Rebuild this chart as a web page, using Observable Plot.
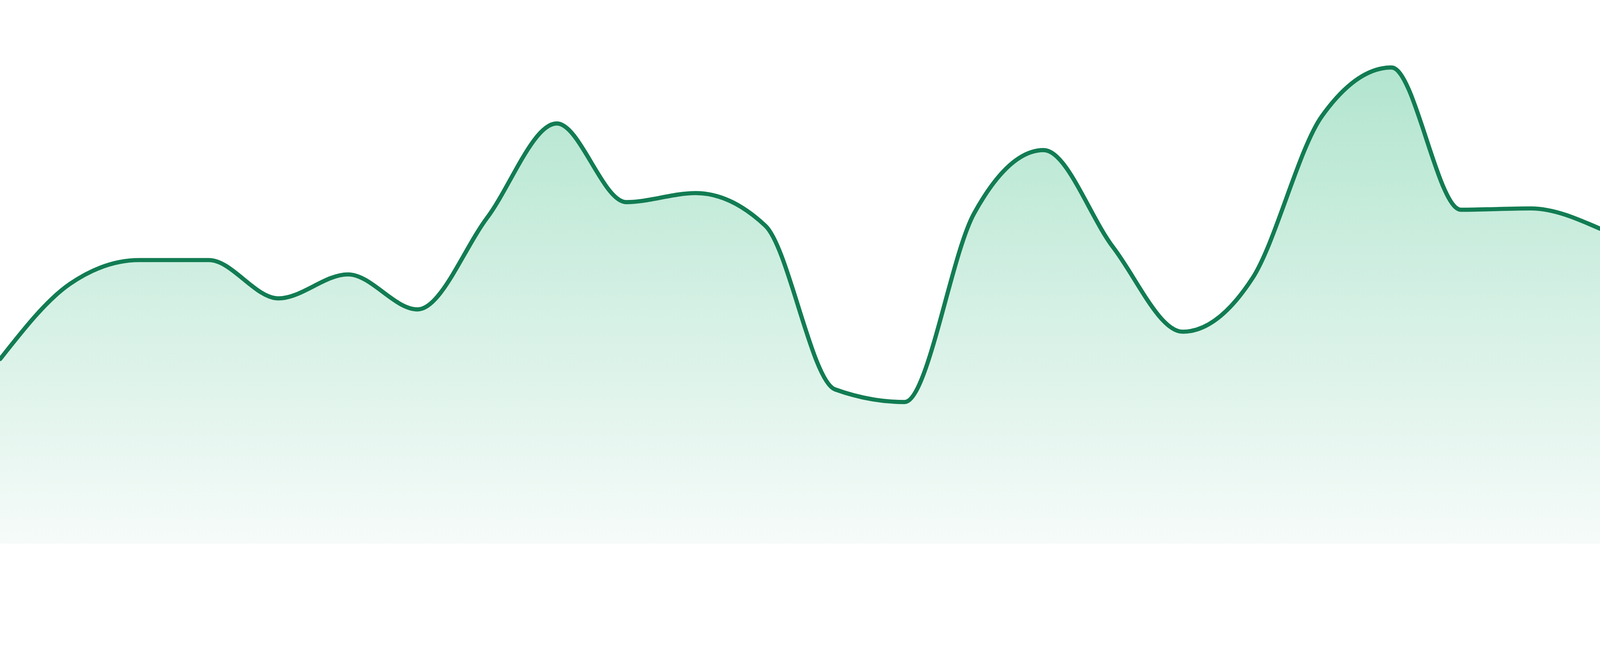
<!DOCTYPE html>
<html>
<head>
<meta charset="utf-8">
<script src="https://cdn.jsdelivr.net/npm/d3@7"></script>
<script src="https://cdn.jsdelivr.net/npm/@observablehq/plot@0.6"></script>
<style>
  html, body { margin: 0; padding: 0; background: #ffffff; overflow: hidden; }
  #chart svg { display: block; }
</style>
</head>
<body>
<div id="chart"></div>
<script>
// Data
const days = [1, 2, 3, 4, 5, 6, 7, 8, 9, 10, 11, 12, 13, 14, 15, 16, 17, 18, 19, 20, 21, 22, 23, 24];
const values = [55.5, 78.0, 85.2, 85.2, 73.7, 80.9, 70.4, 97.9, 126.2, 102.6, 105.3, 95.5,
                46.4, 42.6, 99.2, 118.2, 89.0, 63.7, 79.7, 128.4, 143.0, 100.3, 100.7, 94.6];

const data = days.map((d, i) => ({day: d, value: values[i]}));

const lineColor = "#127c53";
const topColor = "#b2e5cf";
const bottomColor = "#f6fbf9";

const svg = Plot.plot({
  width: 4800,
  height: 1680,
  marginTop: 0,
  marginRight: 0,
  marginBottom: 48,
  marginLeft: 0,
  x: {domain: [1, 24], axis: null},
  y: {domain: [0, 163.2], axis: null},
  style: {background: "#ffffff", overflow: "visible"},
  marks: [
    Plot.areaY(data, {x: "day", y: "value", curve: "monotone-x", fill: "url(#areaGrad)"}),
    Plot.lineY(data, {x: "day", y: "value", curve: "monotone-x", stroke: lineColor, strokeWidth: 12.5})
  ]
});

// gradient definition
const ns = "http://www.w3.org/2000/svg";
const defs = document.createElementNS(ns, "defs");
const grad = document.createElementNS(ns, "linearGradient");
grad.setAttribute("id", "areaGrad");
grad.setAttribute("x1", "0");
grad.setAttribute("y1", "0");
grad.setAttribute("x2", "0");
grad.setAttribute("y2", "1");
const s1 = document.createElementNS(ns, "stop");
s1.setAttribute("offset", "0%");
s1.setAttribute("stop-color", topColor);
const s2 = document.createElementNS(ns, "stop");
s2.setAttribute("offset", "100%");
s2.setAttribute("stop-color", bottomColor);
grad.appendChild(s1);
grad.appendChild(s2);
defs.appendChild(grad);
svg.insertBefore(defs, svg.firstChild);

document.getElementById("chart").appendChild(svg);
</script>
</body>
</html>
